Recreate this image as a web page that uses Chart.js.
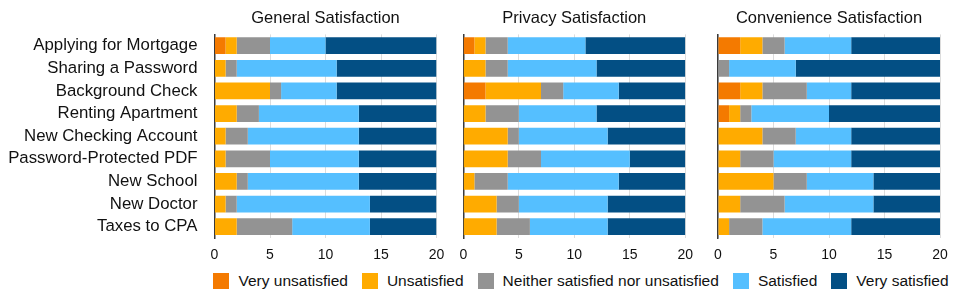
<!DOCTYPE html>
<html>
<head>
<meta charset="utf-8">
<script src="https://cdn.jsdelivr.net/npm/chart.js@4/dist/chart.umd.min.js"></script>
<style>
  html, body { margin: 0; padding: 0; background: #fff; }
  body { width: 969px; height: 303px; position: relative; overflow: hidden; font-family: "Liberation Sans", Arial, sans-serif; }
  canvas { position: absolute; top: 0; }
  #legend { position: absolute; left: 214px; width: 734px; top: 271px; height: 20px; display: flex; justify-content: center; align-items: center; font-size: 15.5px; color: #111; white-space: nowrap; }
  .item { display: flex; align-items: center; margin: 0 7px; }
  .box { width: 16px; height: 16px; margin-right: 9px; }
</style>
</head>
<body>
<canvas id="c1" width="446" height="265" style="left:0px"></canvas>
<canvas id="c2" width="250" height="265" style="left:446px"></canvas>
<canvas id="c3" width="273" height="265" style="left:696px"></canvas>
<div id="legend"></div>
<script>
const categories = ["Applying for Mortgage", "Sharing a Password", "Background Check", "Renting Apartment", "New Checking Account", "Password-Protected PDF", "New School", "New Doctor", "Taxes to CPA"];
const seriesNames = ["Very unsatisfied", "Unsatisfied", "Neither satisfied nor unsatisfied", "Satisfied", "Very satisfied"];
const panelTitles = ["General Satisfaction", "Privacy Satisfaction", "Convenience Satisfaction"];
const xTicks = [0, 5, 10, 15, 20];

// General Satisfaction
const generalVeryUnsatisfied = [1, 0, 0, 0, 0, 0, 0, 0, 0];
const generalUnsatisfied     = [1, 1, 5, 2, 1, 1, 2, 1, 2];
const generalNeither         = [3, 1, 1, 2, 2, 4, 1, 1, 5];
const generalSatisfied       = [5, 9, 5, 9, 10, 8, 10, 12, 7];
const generalVerySatisfied   = [10, 9, 9, 7, 7, 7, 7, 6, 6];

// Privacy Satisfaction
const privacyVeryUnsatisfied = [1, 0, 2, 0, 0, 0, 0, 0, 0];
const privacyUnsatisfied     = [1, 2, 5, 2, 4, 4, 1, 3, 3];
const privacyNeither         = [2, 2, 2, 3, 1, 3, 3, 2, 3];
const privacySatisfied       = [7, 8, 5, 7, 8, 8, 10, 8, 7];
const privacyVerySatisfied   = [9, 8, 6, 8, 7, 5, 6, 7, 7];

// Convenience Satisfaction
const convVeryUnsatisfied = [2, 0, 2, 1, 0, 0, 0, 0, 0];
const convUnsatisfied     = [2, 0, 2, 1, 4, 2, 5, 2, 1];
const convNeither         = [2, 1, 4, 1, 3, 3, 3, 4, 3];
const convSatisfied       = [6, 6, 4, 7, 5, 7, 6, 8, 8];
const convVerySatisfied   = [8, 13, 8, 10, 8, 8, 6, 6, 8];

const colors = ["#F47A00", "#FFAB00", "#939393", "#55BFFF", "#034F84"];
const FONT = '"Liberation Sans", Arial, sans-serif';

const panels = [
  { id: "c1", title: panelTitles[0], data: [generalVeryUnsatisfied, generalUnsatisfied, generalNeither, generalSatisfied, generalVerySatisfied], yWidth: 214.5, padRight: 9.5, showLabels: true },
  { id: "c2", title: panelTitles[1], data: [privacyVeryUnsatisfied, privacyUnsatisfied, privacyNeither, privacySatisfied, privacyVerySatisfied], yWidth: 17.3, padRight: 10.7, showLabels: false },
  { id: "c3", title: panelTitles[2], data: [convVeryUnsatisfied, convUnsatisfied, convNeither, convSatisfied, convVerySatisfied], yWidth: 22, padRight: 29, showLabels: false }
];

panels.forEach(p => {
  new Chart(document.getElementById(p.id), {
    type: "bar",
    data: {
      labels: categories,
      datasets: seriesNames.map((name, i) => ({
        label: name,
        data: p.data[i],
        backgroundColor: colors[i],
        borderWidth: 0,
        barPercentage: 0.74,
        categoryPercentage: 1.0
      }))
    },
    options: {
      indexAxis: "y",
      responsive: false,
      animation: false,
      devicePixelRatio: 1,
      layout: { padding: { left: 0, right: p.padRight, top: 0, bottom: 0 } },
      plugins: {
        legend: { display: false },
        tooltip: { enabled: false },
        title: {
          display: true,
          text: p.title,
          fullSize: false,
          color: "#111",
          font: { family: FONT, size: 16.5, weight: "normal", lineHeight: 1.2 },
          padding: { top: 8.1, bottom: 6.5 }
        }
      },
      scales: {
        x: {
          stacked: true,
          min: 0,
          max: 20,
          afterBuildTicks: s => { s.ticks = xTicks.map(v => ({ value: v })); },
          afterFit: s => { s.height = 27; s.paddingLeft = 0; s.paddingRight = 0; },
          grid: { display: true, color: "#dcdcdc", lineWidth: 1, drawTicks: false },
          border: { display: false },
          ticks: { color: "#111", padding: 9, font: { family: FONT, size: 14 } }
        },
        y: {
          stacked: true,
          afterFit: s => { s.width = p.yWidth; s.paddingTop = 0; s.paddingBottom = 0; },
          grid: { display: false, drawTicks: false },
          border: { display: true, color: "#3a3a3a", width: 1.5 },
          ticks: { display: p.showLabels, autoSkip: false, color: "#111", padding: 17, font: { family: FONT, size: 16.8 } }
        }
      }
    }
  });
});

const legend = document.getElementById("legend");
seriesNames.forEach((name, i) => {
  const item = document.createElement("div");
  item.className = "item";
  const box = document.createElement("div");
  box.className = "box";
  box.style.background = colors[i];
  const txt = document.createElement("span");
  txt.textContent = name;
  item.appendChild(box);
  item.appendChild(txt);
  legend.appendChild(item);
});
</script>
</body>
</html>
